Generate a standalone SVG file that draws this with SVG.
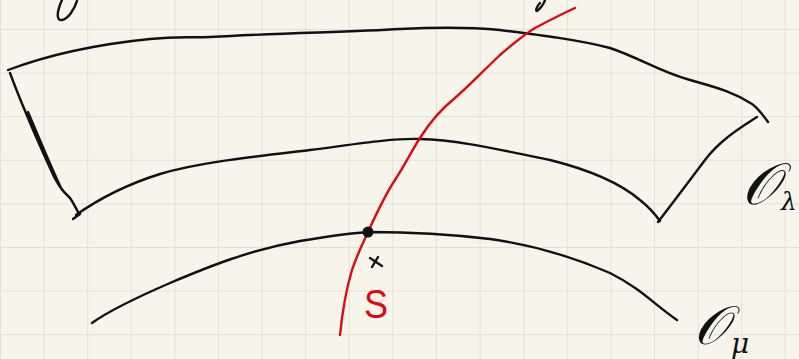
<svg xmlns="http://www.w3.org/2000/svg" width="799" height="359" viewBox="0 0 799 359">
<defs>
<pattern id="grid" x="0" y="29" width="43.6" height="43.6" patternUnits="userSpaceOnUse">
<path d="M0 0 H43.6 M0 0 V43.6" fill="none" stroke="#e3e1d6" stroke-width="2"/>
</pattern>
<style>
.ink{fill:none;stroke:#111;stroke-width:2.4;stroke-linecap:round;stroke-linejoin:round}
.red{fill:none;stroke:#dd0a14;stroke-width:2.4;stroke-linecap:round;stroke-linejoin:round}
.lbl{font-family:"DejaVu Serif","Liberation Serif",serif;font-style:italic;fill:#111}
</style>
</defs>
<rect width="799" height="359" fill="#f7f5ea"/>
<rect width="799" height="359" fill="url(#grid)"/>
<g id="fragments">
<path class="ink" d="M77 1 C74 10 68 19 62 20 C57 21 57 14 59 8 C60 4 61 2 62 0"/>
<path class="ink" d="M545 0 C544 4 540 9 537 11 C535 11 537 6 540 3"/>
</g>
<g id="band">
<path class="ink" d="M8 70 C40 58 90 45 150 39 C180 36 190 38 210 37 C280 33 350 32 400 29 C440 27 470 27 500 30 C540 35 580 40 610 48 C640 58 660 72 690 80 C710 86 730 90 752 104 C758 108 763 115 768 122"/>
<path class="ink" d="M10 73 C20 100 35 135 50 168 C57 185 63 192 70 198 C74 204 77 210 79 214 M28 112 C40 140 50 165 62 190 M73 219 L80 214"/>
<path class="ink" d="M76 215 C100 198 125 185 160 174 C200 162 260 156 310 150 C350 145 390 138 420 139 C460 140 500 150 550 160 C590 170 620 183 640 200 C650 208 655 214 660 221"/>
<path class="ink" d="M757 117 C740 128 720 140 705 160 C690 180 675 200 658 222"/>
</g>
<g id="orbit-mu">
<path class="ink" d="M92 323 C110 310 140 296 170 283 C210 266 250 250 300 241 C330 236 350 233 370 232 C400 232 440 233 490 239 C540 246 580 260 610 273 C640 288 655 305 677 320"/>
</g>
<g id="slice">
<path class="red" d="M340 335 C342 315 346 290 352 270 C357 255 362 245 368 232 C378 210 385 195 395 180 C405 165 412 150 420 138 C430 122 440 110 455 98 C470 85 482 72 500 55 C515 42 525 34 535 28 C550 20 562 14 575 8"/>
</g>
<g id="point-x">
<circle cx="368" cy="232" r="5.5" fill="#111"/>
<path class="ink" d="M370 258 L382 266 M378 257 L372 267" stroke-width="2"/>
<text x="364" y="318" font-family="Liberation Sans, sans-serif" font-size="40" fill="#dd0a14" transform="translate(364 0) scale(0.9 1) translate(-364 0)">S</text>
</g>
<g id="label-lambda">
<text class="lbl" x="742" y="204" font-size="58">𝒪</text>
<text class="lbl" x="781" y="210" font-size="25">λ</text>
</g>
<g id="label-mu">
<text class="lbl" x="694" y="344" font-size="54">𝒪</text>
<text class="lbl" x="731" y="353" font-size="28">μ</text>
</g>
</svg>
